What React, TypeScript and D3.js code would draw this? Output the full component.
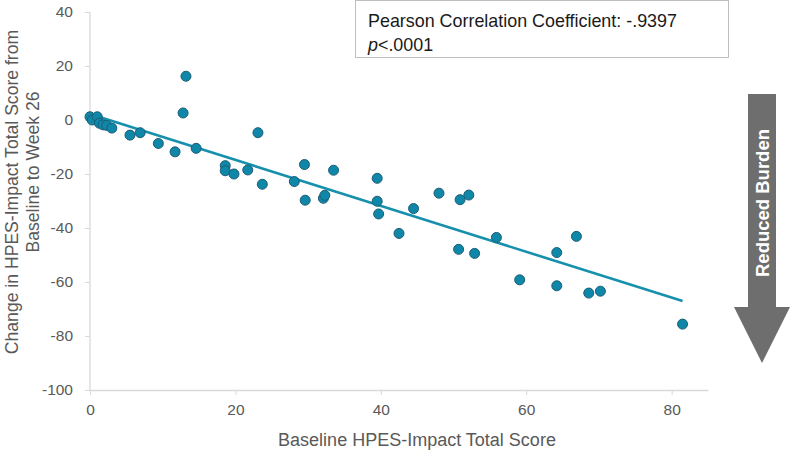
import * as d3 from "d3";
import { useEffect, useRef } from "react";

// baseline score (x) and change at week 26 (y) per patient
const baselineScores: number[] = [
  0, 0.3, 1, 1.3, 1.8, 2.3, 3,
  5.5, 6.9, 9.4, 11.7, 12.8, 13.2, 14.6, 18.6, 18.6, 19.8, 21.7, 23.1, 23.7,
  28.1, 29.5, 29.6, 32.1, 32.3, 33.5, 39.5, 39.5, 39.7, 42.5,
  44.5, 48.0, 50.9, 52.1, 50.7, 52.9, 55.9, 59.1, 64.2, 64.2, 66.9, 68.6, 70.2, 81.5,
];
const changeScores: number[] = [
  1.2, 0, 1.2, -1.2, -1.8, -2, -3,
  -5.6, -4.7, -8.7, -11.8, 2.6, 16.2, -10.5, -16.9, -18.8, -20, -18.5, -4.7, -23.8,
  -22.8, -16.5, -29.7, -29, -27.9, -18.6, -21.6, -30.1, -34.8, -42,
  -32.8, -27.1, -29.5, -27.8, -47.9, -49.4, -43.5, -59.2, -49.1, -61.4, -43.1, -64.1, -63.4, -75.6,
];

const xTicks: number[] = [0, 20, 40, 60, 80];
const yTicks: number[] = [40, 20, 0, -20, -40, -60, -80, -100];

// linear trend line
const trendIntercept = 2.2;
const trendSlope = -0.85;

const xTitle = "Baseline HPES-Impact Total Score";
const yTitle = ["Change in HPES-Impact Total Score from", "Baseline to Week 26"];
const statLines = ["Pearson Correlation Coefficient: -.9397", ".0001"];
const arrowLabel = "Reduced Burden";

export default function App() {
  const svgRef = useRef<SVGSVGElement | null>(null);

  useEffect(() => {
    const width = 792;
    const height = 452;
    const font = "'Liberation Sans', Arial, sans-serif";
    const svg = d3.select(svgRef.current).attr("width", width).attr("height", height);
    svg.selectAll("*").remove();

    const x = d3.scaleLinear().domain([0, 85]).range([90, 708]);
    const y = d3.scaleLinear().domain([-100, 40]).range([390, 12]);
    const fmt = (d: d3.NumberValue) => String(d);

    // axes
    const xAxis = svg.append("g").attr("transform", `translate(0,${y(-100)})`)
      .call(d3.axisBottom(x).tickValues(xTicks).tickFormat(fmt).tickSize(5).tickSizeOuter(0).tickPadding(9));
    const yAxis = svg.append("g").attr("transform", `translate(${x(0)},0)`)
      .call(d3.axisLeft(y).tickValues(yTicks).tickFormat(fmt).tickSize(5).tickSizeOuter(0).tickPadding(12));
    [xAxis, yAxis].forEach((g) => {
      g.select(".domain").attr("stroke", "#d9d9d9").attr("stroke-width", 1.3);
      g.selectAll(".tick line").attr("stroke", "#d9d9d9");
      g.selectAll(".tick text").attr("fill", "#595959").attr("font-size", 15.5).attr("font-family", font);
    });
    yAxis.select(".domain").attr("d", `M0,${y(40)}V${y(-100)}`);

    // trend line
    const xMax = d3.max(baselineScores) as number;
    svg.append("line")
      .attr("x1", x(0)).attr("y1", y(trendIntercept))
      .attr("x2", x(xMax)).attr("y2", y(trendIntercept + trendSlope * xMax))
      .attr("stroke", "#1690ad").attr("stroke-width", 2.6);

    // points
    svg.append("g").selectAll("circle")
      .data(baselineScores.map((b, i) => [b, changeScores[i]]))
      .join("circle")
      .attr("cx", (d) => x(d[0]))
      .attr("cy", (d) => y(d[1]))
      .attr("r", 5)
      .attr("fill", "#0f87a8")
      .attr("stroke", "#1d5d74")
      .attr("stroke-width", 1);

    // axis titles
    svg.append("text")
      .attr("x", 417).attr("y", 446)
      .attr("text-anchor", "middle")
      .attr("font-size", 18).attr("font-family", font).attr("fill", "#595959")
      .text(xTitle);
    svg.append("text")
      .attr("transform", "translate(18,192) rotate(-90)")
      .attr("text-anchor", "middle")
      .attr("font-size", 17.6).attr("font-family", font).attr("fill", "#595959")
      .text(yTitle[0]);
    svg.append("text")
      .attr("transform", "translate(39,172) rotate(-90)")
      .attr("text-anchor", "middle")
      .attr("font-size", 17.6).attr("font-family", font).attr("fill", "#595959")
      .text(yTitle[1]);

    // correlation box
    svg.append("rect")
      .attr("x", 355.5).attr("y", 0.5).attr("width", 373).attr("height", 57)
      .attr("fill", "#fff").attr("stroke", "#bfbfbf");
    svg.append("text")
      .attr("x", 368).attr("y", 27)
      .attr("font-size", 17.9).attr("font-family", font).attr("fill", "#1a1a1a")
      .text(statLines[0]);
    const pText = svg.append("text")
      .attr("x", 368).attr("y", 51)
      .attr("font-size", 17.9).attr("font-family", font).attr("fill", "#1a1a1a");
    pText.append("tspan").attr("font-style", "italic").text("p");
    pText.append("tspan").text("<" + statLines[1]);

    // direction arrow
    const arrow = d3.path();
    arrow.moveTo(748, 94);
    arrow.lineTo(776, 94);
    arrow.lineTo(776, 307);
    arrow.lineTo(790, 307);
    arrow.lineTo(762, 363);
    arrow.lineTo(734, 307);
    arrow.lineTo(748, 307);
    arrow.closePath();
    svg.append("path").attr("d", arrow.toString()).attr("fill", "#6e6e6e");
    svg.append("text")
      .attr("transform", "translate(769,203) rotate(-90)")
      .attr("text-anchor", "middle")
      .attr("font-size", 18.5).attr("font-weight", "bold").attr("font-family", font).attr("fill", "#fff")
      .text(arrowLabel);
  }, []);

  return (
    <div style={{ position: "absolute", left: 0, top: 0, background: "#fff" }}>
      <svg ref={svgRef} style={{ display: "block" }}></svg>
    </div>
  );
}
